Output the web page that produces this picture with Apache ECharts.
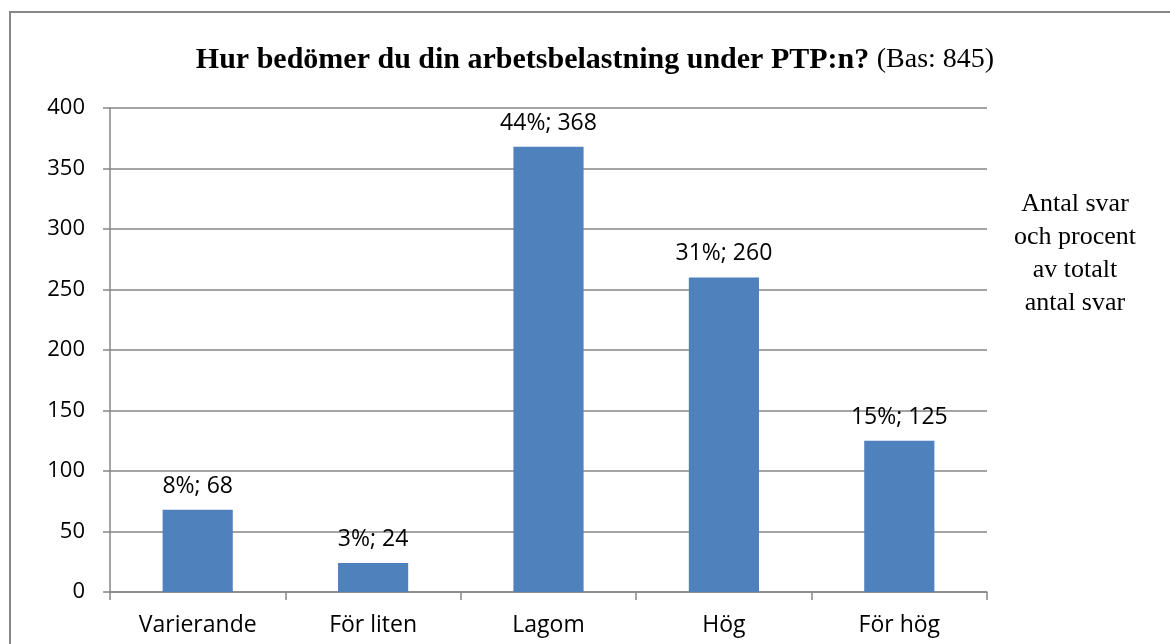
<!DOCTYPE html>
<html>
<head>
<meta charset="utf-8">
<script src="https://cdn.jsdelivr.net/npm/echarts@6/dist/echarts.min.js"></script>
<style>
  html, body { margin: 0; padding: 0; background: #fff; }
  #chart { width: 1170px; height: 644px; }
</style>
</head>
<body>
<div id="chart"></div>
<script>
// data
var categories = ['Varierande', 'För liten', 'Lagom', 'Hög', 'För hög'];
var counts = [68, 24, 368, 260, 125];
var percents = [8, 3, 44, 31, 15];
var yTicks = { min: 0, max: 400, interval: 50 };

var chartDom = document.getElementById('chart');
var myChart = echarts.init(chartDom);
var option;

var serif = '"Liberation Serif", "DejaVu Serif", serif';
var sans = '"Open Sans", "Noto Sans", sans-serif';

option = {
  animation: false,
  title: {
    text: '{b|Hur bedömer du din arbetsbelastning under PTP:n?} {n|(Bas: 845)}',
    left: 590,
    top: 40,
    textAlign: 'center',
    textStyle: {
      fontFamily: serif,
      fontSize: 30,
      fontWeight: 'bold',
      color: '#000',
      rich: {
        b: { fontFamily: serif, fontWeight: 'bold', fontSize: 30, color: '#000' },
        n: { fontFamily: serif, fontWeight: 'normal', fontSize: 28, color: '#000' }
      }
    }
  },
  graphic: [
    {
      type: 'rect',
      shape: { x: 10, y: 12, width: 1170, height: 700 },
      style: { fill: 'none', stroke: '#878787', lineWidth: 2 },
      silent: true
    },
    {
      type: 'text',
      x: 1075,
      y: 188,
      style: {
        text: 'Antal svar\noch procent\nav totalt\nantal svar',
        font: '26px ' + serif,
        lineHeight: 33,
        align: 'center',
        fill: '#000'
      },
      silent: true
    }
  ],
  grid: {
    left: 110,
    right: 183,
    top: 108,
    bottom: 52
  },
  xAxis: {
    type: 'category',
    data: categories,
    axisLine: { lineStyle: { color: '#868686', width: 1.5 } },
    axisTick: { show: true, length: 8, lineStyle: { color: '#868686', width: 1.5 } },
    axisLabel: { color: '#000', fontSize: 23, fontFamily: sans, margin: 22 }
  },
  yAxis: {
    type: 'value',
    min: yTicks.min,
    max: yTicks.max,
    interval: yTicks.interval,
    axisLine: { show: true, lineStyle: { color: '#868686', width: 1.5 } },
    axisTick: { show: true, length: 7, lineStyle: { color: '#868686', width: 1.5 } },
    axisLabel: { color: '#000', fontSize: 22, fontFamily: sans, margin: 25 },
    splitLine: { lineStyle: { color: '#868686', width: 1.5 } }
  },
  series: [
    {
      type: 'bar',
      barWidth: '40%',
      data: counts,
      itemStyle: { color: '#4F81BD' },
      label: {
        show: true,
        position: 'top',
        distance: 12,
        color: '#000',
        fontSize: 23,
        fontFamily: sans,
        formatter: function (p) {
          return percents[p.dataIndex] + '%; ' + p.value;
        }
      }
    }
  ]
};

option && myChart.setOption(option);
</script>
</body>
</html>
